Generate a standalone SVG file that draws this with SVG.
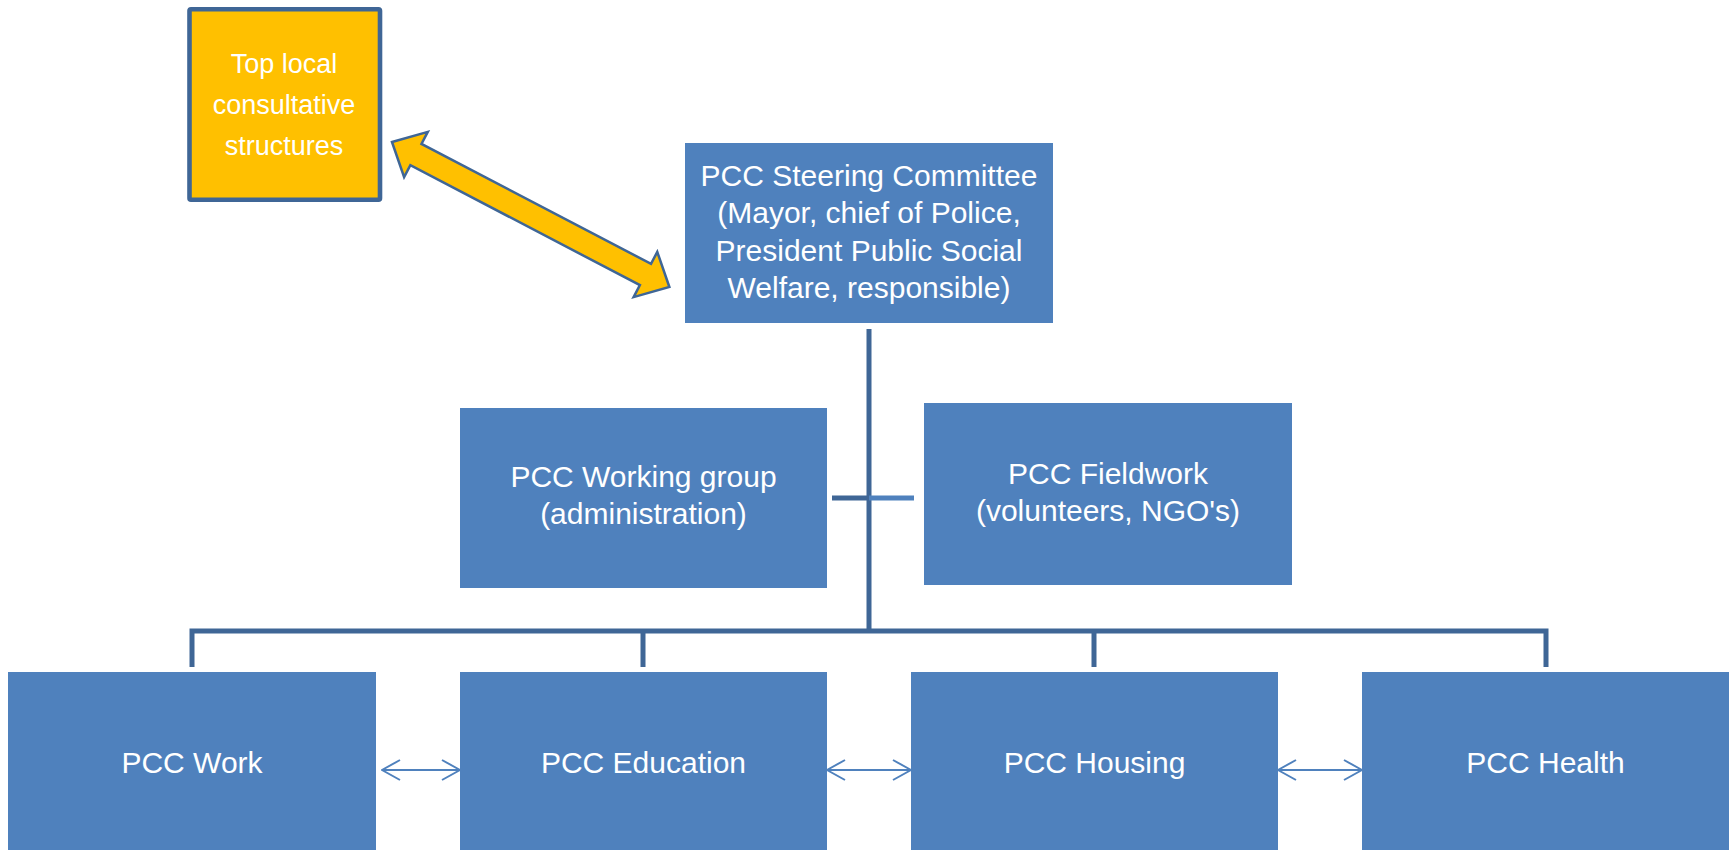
<svg xmlns="http://www.w3.org/2000/svg" width="1733" height="850" viewBox="0 0 1733 850">
<defs>
<style>
.box{fill:#4F81BD;}
.t{font-family:"Liberation Sans",Arial,sans-serif;font-size:30px;fill:#FFFFFF;text-anchor:middle;}
.to{font-family:"Liberation Sans",Arial,sans-serif;font-size:27px;fill:#FFFFFF;text-anchor:middle;}
.conn{fill:none;stroke:#3F6696;stroke-width:5;stroke-linejoin:miter;}
.conn2{fill:none;stroke:#4F81BD;stroke-width:5;}
.dbl{fill:none;stroke:#4F81BD;stroke-width:2;marker-start:url(#open);marker-end:url(#open);}
</style>
<marker id="open" viewBox="0 0 20 22" refX="19" refY="11" markerWidth="20" markerHeight="22" markerUnits="userSpaceOnUse" orient="auto-start-reverse">
<path d="M1,1 L19,11 L1,21" fill="none" stroke="#4F81BD" stroke-width="2"/>
</marker>
</defs>
<rect width="1733" height="850" fill="#FFFFFF"/>

<g id="connectors">
<path class="conn" d="M869,329 V631 M192,667 V631 H1546 V667 M643,631 V667 M1094,631 V667"/>
<path class="conn" d="M832,498 H869"/>
<path class="conn2" d="M869,498 H914"/>
<polygon points="0,0 27,-25.5 27,-12 286,-12 286,-25.5 313,0 286,25.5 286,12 27,12 27,25.5" transform="translate(392,142) rotate(27.6)" fill="#FFC000" stroke="#3F6696" stroke-width="2.5" stroke-linejoin="miter"/>
<line class="dbl" x1="382" y1="770" x2="460" y2="770"/>
<line class="dbl" x1="827" y1="770" x2="911" y2="770"/>
<line class="dbl" x1="1278" y1="770" x2="1362" y2="770"/>
</g>

<g id="top-local">
<rect x="189.5" y="9.3" width="190.5" height="190.5" rx="1.5" fill="#FFC000" stroke="#3F6696" stroke-width="4.6"/>
<text class="to" x="284" y="73">Top local</text>
<text class="to" x="284" y="114">consultative</text>
<text class="to" x="284" y="155">structures</text>
</g>

<g id="steering">
<rect class="box" x="685" y="143" width="368" height="180"/>
<text class="t" x="869" y="185.5">PCC Steering Committee</text>
<text class="t" x="869" y="223">(Mayor, chief of Police,</text>
<text class="t" x="869" y="260.5">President Public Social</text>
<text class="t" x="869" y="298">Welfare, responsible)</text>
</g>

<g id="working-group">
<rect class="box" x="460" y="408" width="367" height="180"/>
<text class="t" x="643.5" y="487">PCC Working group</text>
<text class="t" x="643.5" y="524">(administration)</text>
</g>

<g id="fieldwork">
<rect class="box" x="924" y="403" width="368" height="182"/>
<text class="t" x="1108" y="484">PCC Fieldwork</text>
<text class="t" x="1108" y="521">(volunteers, NGO's)</text>
</g>

<g id="work">
<rect class="box" x="8" y="672" width="368" height="200"/>
<text class="t" x="192" y="773">PCC Work</text>
</g>

<g id="education">
<rect class="box" x="460" y="672" width="367" height="200"/>
<text class="t" x="643.5" y="773">PCC Education</text>
</g>

<g id="housing">
<rect class="box" x="911" y="672" width="367" height="200"/>
<text class="t" x="1094.5" y="773">PCC Housing</text>
</g>

<g id="health">
<rect class="box" x="1362" y="672" width="367" height="200"/>
<text class="t" x="1545.5" y="773">PCC Health</text>
</g>
</svg>
